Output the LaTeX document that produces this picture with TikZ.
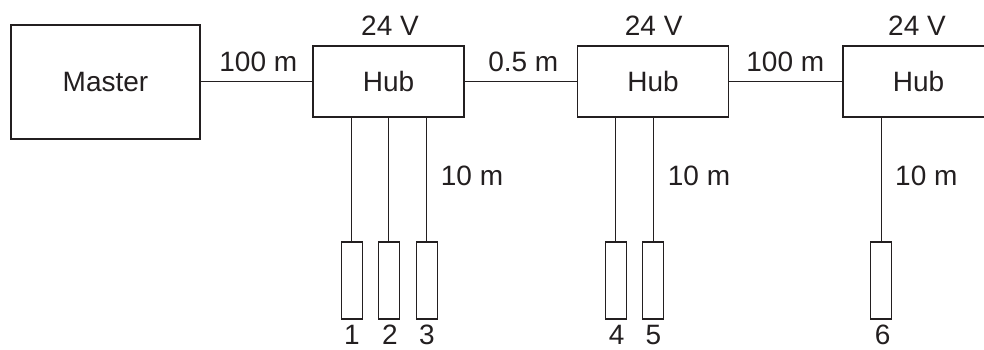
\documentclass[tikz,border=0pt]{standalone}
\usepackage{fontspec}
\setmainfont{Liberation Sans}
\definecolor{ink}{HTML}{231F20}
\begin{document}
\begin{tikzpicture}[x=1pt,y=-1pt,
  font=\fontsize{28}{34}\selectfont,
  every node/.style={text=ink},
  box/.style={draw=ink,line width=1.2pt,rectangle,inner sep=0pt},
  hubbox/.style={box,minimum width=151pt,minimum height=71pt},
  devbox/.style={box,minimum width=21pt,minimum height=77pt},
  wire/.style={draw=ink,line width=1.2pt},
  lbl/.style={anchor=base,inner sep=0pt},
  numlbl/.style={lbl,text depth=0pt},
  lbll/.style={anchor=base west,inner sep=0pt}]
\path[use as bounding box,clip] (0,0) rectangle (984,349);
\node[box,minimum width=189pt,minimum height=114pt] (master) at (105.5,82) {Master};
\node[hubbox] (hub1) at (388.5,81.5) {Hub};
\node[hubbox] (hub2) at (653,81.5) {Hub};
\node[hubbox] (hub3) at (918.5,81.5) {Hub};
\node[devbox] (d1) at (351.7,280.5) {};
\node[devbox] (d2) at (388.7,280.5) {};
\node[devbox] (d3) at (426.7,280.5) {};
\node[devbox] (d4) at (615.7,280.5) {};
\node[devbox] (d5) at (653.2,280.5) {};
\node[devbox] (d6) at (881.3,280.5) {};
\draw[wire] (master.east |- hub1.west) -- (hub1.west);
\draw[wire] (hub1.east) -- (hub2.west);
\draw[wire] (hub2.east) -- (hub3.west);
\foreach \h/\d in {hub1/d1,hub1/d2,hub1/d3,hub2/d4,hub2/d5,hub3/d6}
  \draw[wire] (\d.north |- \h.south) -- (\d.north);
\node[lbl] (l100a) at (258.3,71.7) {100 m};
\node[lbl] (l05) at (523.3,71.7) {0.5 m};
\node[lbl] (l100b) at (785.3,71.7) {100 m};
\node[lbl] (v1) at (390,35) {24 V};
\node[lbl] (v2) at (653.7,35) {24 V};
\node[lbl] (v3) at (917,35) {24 V};
\node[lbll] (m1) at (440.7,185.7) {10 m};
\node[lbll] (m2) at (667.7,185.7) {10 m};
\node[lbll] (m3) at (895,185.7) {10 m};
\node[numlbl] (n1) at (352,344) {1};
\node[numlbl] (n2) at (390,344) {2};
\node[numlbl] (n3) at (427,344) {3};
\node[numlbl] (n4) at (616.7,344) {4};
\node[numlbl] (n5) at (653.3,344) {5};
\node[numlbl] (n6) at (882.7,344) {6};
\end{tikzpicture}
\end{document}
